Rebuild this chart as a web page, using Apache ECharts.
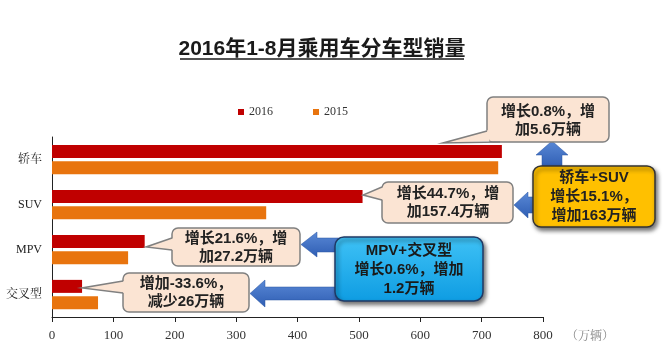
<!DOCTYPE html>
<html><head><meta charset="utf-8">
<script src="https://cdn.jsdelivr.net/npm/echarts@6/dist/echarts.min.js"></script>
<style>html,body{margin:0;padding:0;background:#fff}#c{width:666px;height:356px}</style>
</head><body><div id="c"></div>
<script>
const categories = ['轿车', 'SUV', 'MPV', '交叉型'];
const seriesNames = ['2016', '2015'];
const sales2016 = [733, 506, 151, 49];
const sales2015 = [727, 349, 124, 75];
const titleText = '2016年1-8月乘用车分车型销量';
const unitText = '（万辆）';
const noteSedan = '增长0.8%，增\n加5.6万辆';
const noteSUV = '增长44.7%，增\n加157.4万辆';
const noteMPV = '增长21.6%，增\n加27.2万辆';
const noteCross = '增加-33.6%，\n减少26万辆';
const noteSedanSUV = '轿车+SUV\n增长15.1%，\n增加163万辆';
const noteMPVCross = 'MPV+交叉型\n增长0.6%，增加\n1.2万辆';

const CJK = '"Liberation Sans","Noto Sans CJK SC",sans-serif';
const SERIF = '"Liberation Serif","Noto Serif CJK SC","Noto Sans CJK SC",serif';
const bubbleFill = '#fbe4d3';
const bubbleStroke = '#808080';
const arrowFill = new echarts.graphic.LinearGradient(0, 0, 0, 1, [
  {offset: 0, color: '#5a89d6'}, {offset: 1, color: '#2e5db3'}]);

const g = [];
// title
g.push({type: 'text', z: 20, x: 322, y: 49, style: {text: titleText, font: 'bold 21px ' + CJK,
  fill: '#1a1a1a', align: 'center', verticalAlign: 'middle',
  shadowColor: 'rgba(0,0,0,0.3)', shadowBlur: 3, shadowOffsetY: 3}});
g.push({type: 'line', z: 20, shape: {x1: 180, y1: 59, x2: 464, y2: 59},
  style: {stroke: '#1a1a1a', lineWidth: 1.5}});
// unit
g.push({type: 'text', z: 20, x: 566, y: 337, style: {text: unitText, font: '12px ' + SERIF,
  fill: '#888', align: 'left', verticalAlign: 'middle'}});

function arrow(pts) {
  g.push({type: 'polygon', z: 20, shape: {points: pts},
    style: {fill: arrowFill, stroke: '#2a55a0', lineWidth: 0.5}});
}
arrow([[542,168],[542,155],[536,155],[552,141],[568,155],[562,155],[562,168]]);
arrow([[540,197],[528,197],[528,192],[514,205],[528,218],[528,213],[540,213]]);
arrow([[340,238],[317,238],[317,232],[301,244.5],[317,257],[317,252],[340,252]]);
arrow([[340,287],[265,287],[265,280],[250,293.5],[265,307],[265,300],[340,300]]);

function bubble(x, y, w, h, fillPts, linePts, text, cx, cy) {
  g.push({type: 'rect', z: 30, shape: {x: x, y: y, width: w, height: h, r: 6},
    style: {fill: bubbleFill, stroke: bubbleStroke, lineWidth: 1.5}});
  g.push({type: 'polygon', z: 31, shape: {points: fillPts}, style: {fill: bubbleFill}});
  g.push({type: 'polyline', z: 32, shape: {points: linePts}, style: {stroke: bubbleStroke, lineWidth: 1.5, fill: null}});
  g.push({type: 'text', z: 33, x: cx, y: cy, style: {text: text, font: 'bold 15px ' + CJK,
    fill: '#222', align: 'center', verticalAlign: 'middle', lineHeight: 18}});
}
bubble(487, 97, 122, 45, [[489,130],[443,143],[502,140.5],[489,140.5]],
  [[487,131],[443,143],[500,142]], noteSedan, 548, 121);
bubble(382, 182, 131, 41, [[384,187],[363,195],[384,200]],
  [[382,187],[363,195],[382,200]], noteSUV, 448, 203);
bubble(172, 228, 128, 38, [[174,238],[146,247],[174,250]],
  [[172,238],[146,247],[172,250]], noteMPV, 236, 248);
bubble(123, 273, 126, 39, [[125,281],[82,288],[125,293]],
  [[123,281],[82,288],[123,293]], noteCross, 186, 293);

g.push({type: 'rect', z: 40, shape: {x: 533, y: 166, width: 122, height: 61, r: 8},
  style: {fill: '#ffc000', stroke: '#333', lineWidth: 1.5,
    shadowColor: 'rgba(0,0,0,0.55)', shadowBlur: 4, shadowOffsetX: 2, shadowOffsetY: 3}});
g.push({type: 'text', z: 41, x: 594, y: 197, style: {text: noteSedanSUV, font: 'bold 15px ' + CJK,
  fill: '#222', align: 'center', verticalAlign: 'middle', lineHeight: 19}});
g.push({type: 'rect', z: 40, shape: {x: 335, y: 237, width: 148, height: 64, r: 9},
  style: {fill: new echarts.graphic.LinearGradient(0, 0, 0, 1, [
      {offset: 0, color: '#3fc2f6'}, {offset: 1, color: '#0e9ce2'}]),
    stroke: '#1f3a66', lineWidth: 1.5,
    shadowColor: 'rgba(0,0,0,0.55)', shadowBlur: 4, shadowOffsetX: 2, shadowOffsetY: 3}});
g.push({type: 'text', z: 41, x: 409, y: 269.5, style: {text: noteMPVCross, font: 'bold 15px ' + CJK,
  fill: '#1a1a1a', align: 'center', verticalAlign: 'middle', lineHeight: 19}});

const chart = echarts.init(document.getElementById('c'), null, {renderer: 'canvas'});
chart.setOption({
  animation: false,
  backgroundColor: '#fff',
  legend: {
    data: seriesNames, left: 233, top: 101, icon: 'rect', itemWidth: 6, itemHeight: 6,
    itemGap: 40, textStyle: {fontFamily: SERIF, fontSize: 12, color: '#333'}
  },
  grid: {left: 52, right: 123, top: 137, bottom: 39},
  xAxis: {
    type: 'value', min: 0, max: 800, interval: 100,
    axisLine: {show: true, lineStyle: {color: '#222', width: 1}},
    axisTick: {show: true, length: 5, lineStyle: {color: '#222'}},
    splitLine: {show: false},
    axisLabel: {fontFamily: SERIF, fontSize: 13, color: '#333', margin: 12}
  },
  yAxis: {
    type: 'category', data: categories, inverse: true,
    axisLine: {show: true, lineStyle: {color: '#222', width: 1}},
    axisTick: {show: false},
    axisLabel: {fontFamily: SERIF, fontSize: 12, color: '#222', margin: 10}
  },
  series: [
    {name: seriesNames[0], type: 'bar', data: sales2016, barWidth: 13, barGap: '25%',
      itemStyle: {color: '#c00000'}},
    {name: seriesNames[1], type: 'bar', data: sales2015, barWidth: 13, barGap: '25%',
      itemStyle: {color: '#e8740e'}}
  ],
  graphic: g
});
</script></body></html>
